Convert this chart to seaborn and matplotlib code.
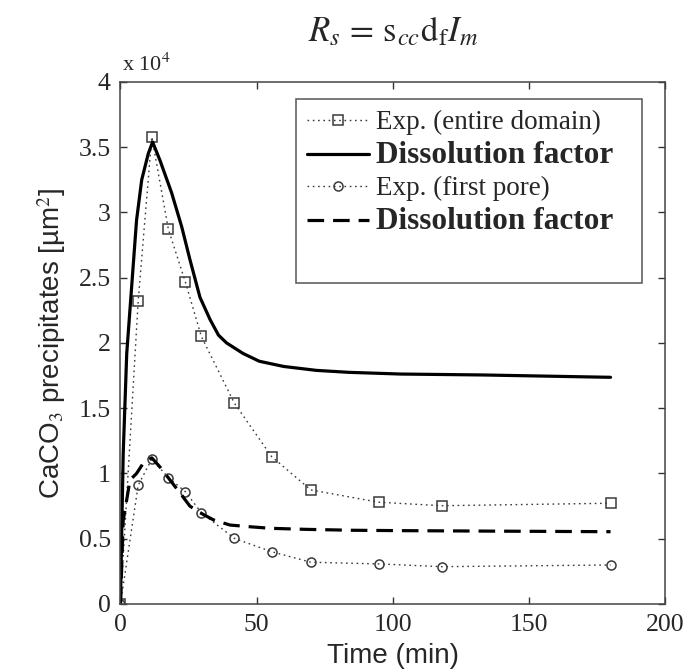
import matplotlib
matplotlib.use("Agg")
import matplotlib.pyplot as plt
from matplotlib.patches import Rectangle
from matplotlib.ticker import FuncFormatter, MultipleLocator
import seaborn as sns

# measured points (time in min, area in um^2)
exp_time = [0, 6.5, 11.5, 17.6, 23.8, 29.7, 41.8, 55.5, 69.9, 94.8, 118, 180]
exp_domain = [0, 2.32e4, 3.58e4, 2.87e4, 2.47e4, 2.05e4, 1.54e4, 1.13e4, 0.874e4, 0.78e4, 0.753e4, 0.772e4]
exp_pore = [0, 0.91e4, 1.11e4, 0.968e4, 0.861e4, 0.70e4, 0.503e4, 0.401e4, 0.32e4, 0.307e4, 0.286e4, 0.299e4]

# model curve, entire domain
model_domain_t = [0, 0.5, 1.0, 2.3, 4.1, 5.9, 7.8, 10.2, 11.8, 14.5, 18.8, 22.5, 25.5, 29.2,
                  32.9, 36, 39, 45, 51, 60, 72, 84, 103, 133, 180]
model_domain = [0, 0.6e4, 1.15e4, 1.92e4, 2.43e4, 2.94e4, 3.25e4, 3.45e4, 3.54e4, 3.40e4, 3.15e4,
                2.89e4, 2.64e4, 2.35e4, 2.18e4, 2.06e4, 2.0e4, 1.92e4, 1.86e4, 1.82e4, 1.79e4,
                1.775e4, 1.762e4, 1.755e4, 1.737e4]

# model curve, first pore
model_pore_t = [0, 1, 2.3, 3.5, 5.9, 8.4, 11.5, 14.5, 18.2, 21.9, 25.5, 29.2, 34.1, 40.2, 47.5,
                55, 68, 85, 103, 140, 180]
model_pore = [0, 0.64e4, 0.8e4, 0.95e4, 1.0e4, 1.08e4, 1.12e4, 1.05e4, 0.95e4, 0.85e4, 0.75e4,
              0.70e4, 0.645e4, 0.605e4, 0.592e4, 0.58e4, 0.572e4, 0.565e4, 0.562e4, 0.558e4,
              0.554e4]

sns.set_style("ticks")
plt.rcParams["font.family"] = ["Liberation Serif", "DejaVu Serif"]
plt.rcParams["mathtext.fontset"] = "stix"

fig = plt.figure(figsize=(6.98, 6.72), dpi=100)
ax = fig.add_axes([0.1726, 0.1012, 0.7801, 0.7768])

dot = (0, (1.2, 2.6))
gray = "#3a3a3a"

sns.lineplot(x=exp_time, y=exp_domain, ax=ax, color=gray, linestyle=dot, lw=1.0,
             marker="s", markersize=7.2, markerfacecolor="none", markeredgecolor=gray,
             markeredgewidth=1.1, label="Exp. (entire domain)")
sns.lineplot(x=model_domain_t, y=model_domain, ax=ax, color="black", lw=2.3,
             label="Dissolution factor")
sns.lineplot(x=exp_time, y=exp_pore, ax=ax, color=gray, linestyle=dot, lw=1.0,
             marker="o", markersize=6.5, markerfacecolor="none", markeredgecolor=gray,
             markeredgewidth=1.1, label="Exp. (first pore)")
sns.lineplot(x=model_pore_t, y=model_pore, ax=ax, color="black", lw=2.3,
             linestyle=(0, (5.2, 2.8)), label="Dissolution factor ")

ax.set_xlim(0, 200)
ax.set_ylim(0, 4e4)
ax.xaxis.set_major_locator(MultipleLocator(50))
ax.yaxis.set_major_locator(MultipleLocator(0.5e4))
ax.yaxis.set_major_formatter(FuncFormatter(lambda v, p: f"{v / 1e4:g}"))
ax.tick_params(direction="in", length=5, width=1, top=True, right=True,
               labelsize=18.5, pad=7, color="#333333")
for s in ax.spines.values():
    s.set_color("#444444")
    s.set_linewidth(1.1)

ax.set_xlabel("Time (min)", family="Liberation Sans", fontsize=20, labelpad=5)
ax.set_ylabel(r"CaCO$_3$ precipitates [µm$^2$]", family="Liberation Sans", fontsize=20,
              labelpad=8)

ax.text(0.002, 1.012, r"x 10$^4$", transform=ax.transAxes, ha="left", va="bottom",
        fontsize=16)
fig.text(0.5628, 0.939, r"$R_s \,=\, \mathrm{s}_{cc}\mathrm{d}_\mathrm{f}I_m$", ha="center",
         va="baseline", fontsize=25)

# legend box drawn separately (taller than its entries)
ax.add_patch(Rectangle((0.3223, 0.615), 0.6355, 0.3524, transform=ax.transAxes,
                       fill=False, edgecolor="#555555", lw=1.1, zorder=5))
handles, labels = ax.get_legend_handles_labels()
leg = ax.legend(handles, labels, loc="upper left", bbox_to_anchor=(0.342, 0.946),
                frameon=False, fontsize=19.5, borderpad=0, borderaxespad=0,
                handlelength=2.3, handletextpad=0.26, labelspacing=0.22)
for i, t in enumerate(leg.get_texts()):
    if i in (1, 3):
        t.set_fontweight("bold")
        t.set_fontsize(22.5)
    t.set_text(t.get_text().strip())

fig.savefig("out.png", dpi=100)
